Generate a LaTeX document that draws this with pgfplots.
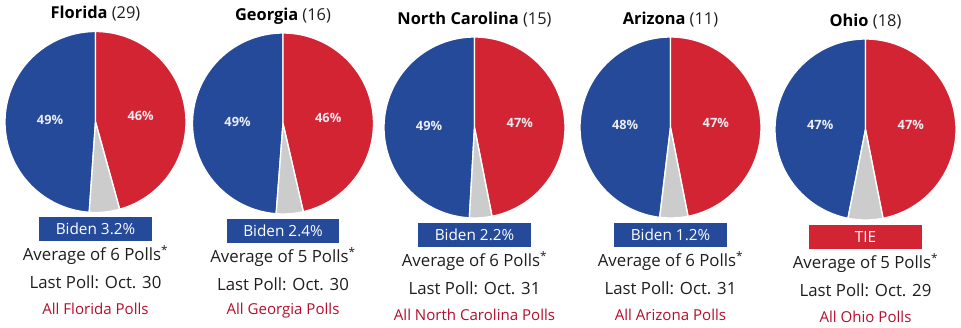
\documentclass[border=0pt]{standalone}
\usepackage{pgfplots}
\pgfplotsset{compat=1.18}
\usepackage{fontspec}
\setmainfont{Open Sans}
\definecolor{dblue}{HTML}{244A99}
\definecolor{dred}{HTML}{D32434}
\definecolor{lgray}{HTML}{CCCCCC}
\definecolor{txt}{HTML}{1E1E1E}
\definecolor{link}{HTML}{B50E2C}
\definecolor{lbl}{HTML}{ECECF2}

% #1 cx, #2 cy (axis units, y up), #3 Biden share, #4 Trump share, #5 Biden label, #6 Trump label
\newcommand\pie[6]{%
  \pgfmathsetmacro\aB{90+3.6*#3}%
  \pgfmathsetmacro\aT{90-3.6*#4}%
  \pgfmathsetmacro\aG{360+\aT}%
  \addplot[fill=dblue, draw=white, line width=1pt, line join=round, domain=90:\aB, samples=90, variable=\t]
    ({#1+90.5*cos(\t)},{#2+90.5*sin(\t)}) -- (#1,#2) -- cycle;
  \addplot[fill=dred, draw=white, line width=1pt, line join=round, domain=\aT:90, samples=90, variable=\t]
    ({#1+90.5*cos(\t)},{#2+90.5*sin(\t)}) -- (#1,#2) -- cycle;
  \addplot[fill=lgray, draw=white, line width=1pt, line join=round, domain=\aB:\aG, samples=20, variable=\t]
    ({#1+90.5*cos(\t)},{#2+90.5*sin(\t)}) -- (#1,#2) -- cycle;
  \pgfmathsetmacro\mB{90+1.8*#3}%
  \pgfmathsetmacro\mT{90-1.8*#4}%
  \pgfmathsetmacro\lBx{#1+45.5*cos(\mB)}%
  \pgfmathsetmacro\lBy{#2+45.5*sin(\mB)}%
  \pgfmathsetmacro\lTx{#1+45.5*cos(\mT)}%
  \pgfmathsetmacro\lTy{#2+45.5*sin(\mT)}%
  \edef\tmp{\noexpand\node[lbl, font=\noexpand\fontsize{9.6}{11}\noexpand\selectfont\noexpand\bfseries] at (axis cs:\lBx,\lBy) {#5\noexpand\%};
    \noexpand\node[lbl, font=\noexpand\fontsize{9.6}{11}\noexpand\selectfont\noexpand\bfseries] at (axis cs:\lTx,\lTy) {#6\noexpand\%};}%
  \tmp
}

% #1 cx, #2 dy (pixels), #3 name, #4 EV, #5 box colour, #6 box text, #7 polls, #8 date
\newcommand\info[8]{%
  \node[font=\fontsize{12.3}{14}\selectfont] at (axis cs:#1,{328-14-#2}) {\textbf{#3} {\color{txt}(#4)}};
  \node[fill=#5, text=white, minimum width=84.5pt, minimum height=18pt, inner sep=0pt,
        font=\fontsize{11.5}{13}\selectfont] at (axis cs:#1,{328-229-#2}) {#6};
  \node[text=txt, font=\fontsize{12.6}{14}\selectfont] at (axis cs:#1,{328-255-#2}) {Average of #7 Polls\textsuperscript{*}};
  \node[text=txt, font=\fontsize{12.6}{14}\selectfont] at (axis cs:#1,{328-282-#2}) {Last Poll: Oct. #8};
  \node[text=link, font=\fontsize{11.3}{13}\selectfont] at (axis cs:#1,{328-309-#2}) {All #3 Polls};
}

\begin{document}
\begin{tikzpicture}
\begin{axis}[hide axis, scale only axis, width=720.75pt, height=246pt,
  xmin=0, xmax=961, ymin=0, ymax=328, clip=false]
\path (axis cs:0,0) rectangle (axis cs:961,328);
% Florida
\pie{95.5}{206}{48.9}{45.7}{49}{46}
\info{95.5}{0}{Florida}{29}{dblue}{Biden 3.2\%}{6}{30}
% Georgia
\pie{283}{204.5}{48.8}{46.4}{49}{46}
\info{283}{2}{Georgia}{16}{dblue}{Biden 2.4\%}{5}{30}
% North Carolina
\pie{474.5}{200.5}{49.1}{46.9}{49}{47}
\info{474.5}{6}{North Carolina}{15}{dblue}{Biden 2.2\%}{6}{31}
% Arizona
\pie{670.5}{200.5}{48.1}{46.9}{48}{47}
\info{670.5}{6}{Arizona}{11}{dblue}{Biden 1.2\%}{6}{31}
% Ohio
\pie{865.5}{198.5}{46.9}{46.9}{47}{47}
\info{865.5}{8}{Ohio}{18}{dred}{TIE}{5}{29}
\end{axis}
\end{tikzpicture}
\end{document}
